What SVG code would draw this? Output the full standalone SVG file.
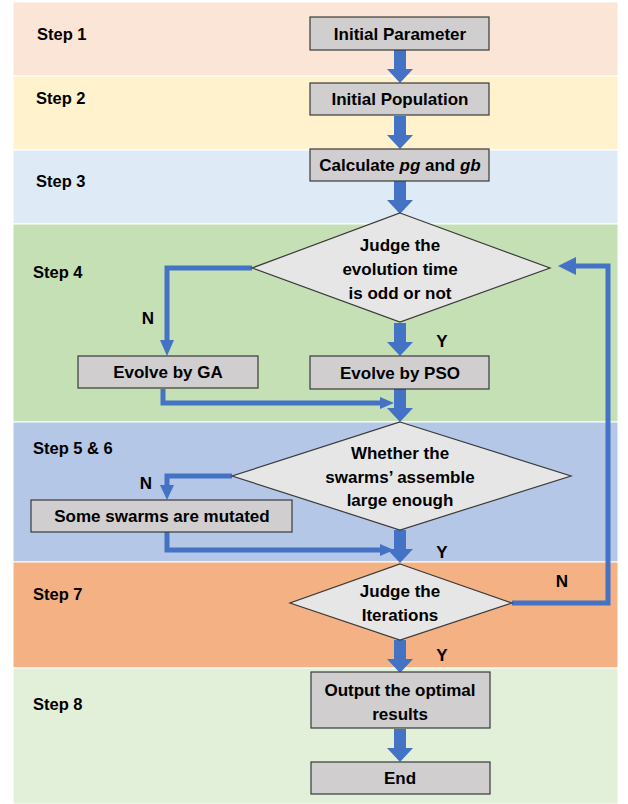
<svg xmlns="http://www.w3.org/2000/svg" xmlns:xlink="http://www.w3.org/1999/xlink" width="628" height="804" viewBox="0 0 628 804">
<style>
text{font-family:"Liberation Sans","DejaVu Sans",sans-serif;font-weight:bold;fill:#000}
.lbl{font-size:16.5px}
.nt{font-size:17px;text-anchor:middle}
.box{fill:#D0CECE;stroke:#3a3a3a;stroke-width:1.2}
.dia{fill:#E7E6E6;stroke:#3a3a3a;stroke-width:1.2}
.ln{fill:none;stroke:#4472C4;stroke-width:5;stroke-linejoin:miter}
.ah{fill:#4472C4}
.band{stroke:#ffffff;stroke-width:1}
</style>
<defs>
<path id="bigArrow" d="M-6,0 L6,0 L6,19 L13,19 L0,33 L-13,19 L-6,19 Z" fill="#4472C4"/>
</defs>
<g id="bands">
<rect class="band" x="13" y="2" width="605" height="74" fill="#FBE5D6"/>
<rect class="band" x="13" y="76" width="605" height="74" fill="#FFF2CC"/>
<rect class="band" x="13" y="150" width="605" height="74" fill="#DEEBF7"/>
<rect class="band" x="13" y="224" width="605" height="198" fill="#C5E0B4"/>
<rect class="band" x="13" y="422" width="605" height="140" fill="#B4C7E7"/>
<rect class="band" x="13" y="562" width="605" height="106" fill="#F4B183"/>
<rect class="band" x="13" y="668" width="605" height="136" fill="#E2F0D9"/>
<text class="lbl" x="37" y="40">Step 1</text>
<text class="lbl" x="36" y="104">Step 2</text>
<text class="lbl" x="36" y="187">Step 3</text>
<text class="lbl" x="33" y="278">Step 4</text>
<text class="lbl" x="33" y="454">Step 5 &amp; 6</text>
<text class="lbl" x="33" y="600">Step 7</text>
<text class="lbl" x="33" y="710">Step 8</text>
</g>
<g id="connectors">
<use xlink:href="#bigArrow" transform="translate(400,50)"/>
<use xlink:href="#bigArrow" transform="translate(400,116)"/>
<use xlink:href="#bigArrow" transform="translate(400,181)"/>
<use xlink:href="#bigArrow" transform="translate(400,323)"/>
<use xlink:href="#bigArrow" transform="translate(400,389)"/>
<use xlink:href="#bigArrow" transform="translate(400,530)"/>
<use xlink:href="#bigArrow" transform="translate(400,640)"/>
<use xlink:href="#bigArrow" transform="translate(400,729)"/>
<polyline class="ln" points="252,268 167,268 167,342"/>
<polygon class="ah" points="160,340 174,340 167,356"/>
<polyline class="ln" points="163,389 163,403 382,403"/>
<polygon class="ah" points="380,397 394,403 380,409"/>
<polyline class="ln" points="232,476 167,476 167,487"/>
<polygon class="ah" points="160,485 174,485 167,500"/>
<polyline class="ln" points="167,532 167,550 382,550"/>
<polygon class="ah" points="380,544 394,550 380,556"/>
<polyline class="ln" points="512,603 608,603 608,266 574,266"/>
<polygon class="ah" points="576,257 558,266 576,275"/>
<text class="nt" x="148" y="324">N</text>
<text class="nt" x="442" y="347">Y</text>
<text class="nt" x="146" y="489">N</text>
<text class="nt" x="442" y="558">Y</text>
<text class="nt" x="562" y="587">N</text>
<text class="nt" x="442" y="661">Y</text>
</g>
<g id="initial-parameter">
<rect class="box" x="310" y="17" width="179" height="33"/>
<text class="nt" x="400" y="40">Initial Parameter</text>
</g>
<g id="initial-population">
<rect class="box" x="310" y="83" width="179" height="32"/>
<text class="nt" x="400" y="105">Initial Population</text>
</g>
<g id="calculate">
<rect class="box" x="310" y="149" width="179" height="32"/>
<text class="nt" x="400" y="171">Calculate <tspan font-style="italic">pg</tspan> and <tspan font-style="italic">gb</tspan></text>
</g>
<g id="judge-evolution">
<polygon class="dia" points="400,213 550,268 400,322 252,268"/>
<text class="nt" x="400" y="251">Judge the</text>
<text class="nt" x="400" y="275">evolution time</text>
<text class="nt" x="400" y="299">is odd or not</text>
</g>
<g id="evolve-ga">
<rect class="box" x="78" y="356" width="180" height="32"/>
<text class="nt" x="168" y="378">Evolve by GA</text>
</g>
<g id="evolve-pso">
<rect class="box" x="310" y="356" width="179" height="33"/>
<text class="nt" x="400" y="379">Evolve by PSO</text>
</g>
<g id="whether-swarms">
<polygon class="dia" points="400,422 571,476 400,530 232,476"/>
<text class="nt" x="400" y="459">Whether the</text>
<text class="nt" x="400" y="483">swarms’ assemble</text>
<text class="nt" x="400" y="506">large enough</text>
</g>
<g id="mutated">
<rect class="box" x="31" y="500" width="261" height="32"/>
<text class="nt" x="162" y="522">Some swarms are mutated</text>
</g>
<g id="judge-iterations">
<polygon class="dia" points="400,564 512,603 400,640 290,603"/>
<text class="nt" x="400" y="597">Judge the</text>
<text class="nt" x="400" y="621">Iterations</text>
</g>
<g id="output">
<rect class="box" x="311" y="672" width="179" height="56"/>
<text class="nt" x="400" y="696">Output the optimal</text>
<text class="nt" x="400" y="720">results</text>
</g>
<g id="end">
<rect class="box" x="311" y="762" width="179" height="32"/>
<text class="nt" x="400" y="784">End</text>
</g>
</svg>
